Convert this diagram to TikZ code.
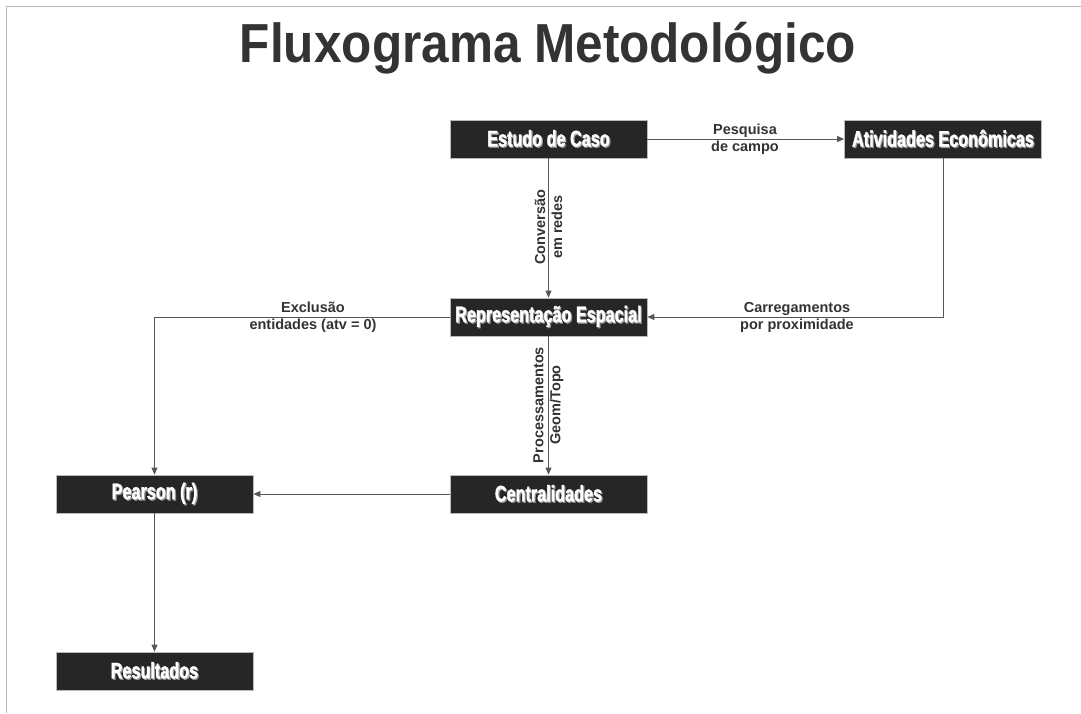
\documentclass[tikz,border=0pt]{standalone}
\usepackage{fontspec}
\setmainfont{Liberation Sans}
\newfontfamily\boxfont{Liberation Sans Bold}[FakeStretch=0.72,FakeBold=1.6]
\newfontfamily\titlefont{Liberation Sans Bold}[FakeStretch=0.9]
\newfontfamily\labfont{Liberation Sans Bold}
\usetikzlibrary{arrows.meta}
\definecolor{boxfill}{HTML}{262626}
\definecolor{linegray}{HTML}{555555}
\definecolor{txtgray}{HTML}{333333}
\newcommand{\shadtxt}[1]{\makebox[0pt][l]{\kern1.2pt\raisebox{-1.2pt}{\color{black!40}#1}}{\color{white}#1}}
\tikzset{
  stepbox/.style={rectangle, fill=boxfill, draw=gray!55, line width=0.8pt,
    minimum width=197pt, minimum height=38pt, inner sep=0pt,
    font=\boxfont\fontsize{22.5}{25}\selectfont},
  conn/.style={draw=linegray, line width=0.9pt, -{Triangle[length=7pt,width=6pt]}},
  lab/.style={font=\labfont\fontsize{14.5}{17}\selectfont, text=txtgray, align=center, inner sep=0pt},
  frameline/.style={draw=gray!55, line width=1.4pt}
}
\begin{document}
\begin{tikzpicture}[x=1pt,y=-1pt]
\useasboundingbox (0,0) rectangle (1081,713);
\fill[white] (0,0) rectangle (1081,713);
\draw[frameline] (6,6.5) -- (1081,6.5);
\draw[frameline] (6.5,6) -- (6.5,713);
\node[font=\titlefont\fontsize{55}{64}\selectfont, text=txtgray] (title) at (548,48.5) {Fluxograma Metodológico};

\node[stepbox] (caso) at (548.5,139) {\shadtxt{Estudo de Caso}};
\node[stepbox] (ativ) at (943,139) {\shadtxt{Atividades Econômicas}};
\node[stepbox] (rep) at (548.5,317) {\shadtxt{Representação Espacial}};
\node[stepbox] (cent) at (548.5,494) {\shadtxt{Centralidades}};
\node[stepbox] (pear) at (154.5,494) {\shadtxt{Pearson (r)}};
\node[stepbox] (res) at (154.5,671) {\shadtxt{Resultados}};

\draw[conn] (caso) -- (ativ);
\draw[conn] (caso) -- (rep);
\draw[conn] (ativ) |- (rep);
\draw[conn] (rep) -| (pear);
\draw[conn] (rep) -- (cent);
\draw[conn] (cent) -- (pear);
\draw[conn] (pear) -- (res);

\node[lab] (l1) at (745,139.5) {Pesquisa\\de campo};
\node[lab, rotate=90] (l2) at (548.5,227) {Conversão\\em redes};
\node[lab] (l3) at (797,317.5) {Carregamentos\\por proximidade};
\node[lab] (l4) at (313,317.5) {Exclusão\\entidades (atv = 0)};
\node[lab, rotate=90] (l5) at (548.5,405) {Processamentos\\Geom/Topo};
\end{tikzpicture}
\end{document}
